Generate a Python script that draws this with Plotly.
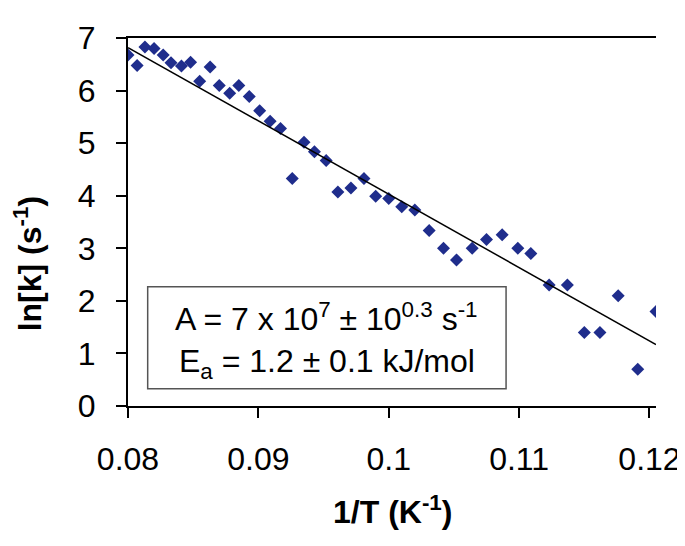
import plotly.graph_objects as go

inv_T = [0.0800, 0.0807, 0.0813, 0.0820, 0.0827, 0.0833, 0.0841, 0.0848, 0.0855, 0.0863,
         0.0870, 0.0878, 0.0885, 0.0893, 0.0901, 0.0909, 0.0917, 0.0926, 0.0935, 0.0943,
         0.0952, 0.0961, 0.0971, 0.0981, 0.0990, 0.1000, 0.1010, 0.1020, 0.1031, 0.1042,
         0.1052, 0.1064, 0.1075, 0.1087, 0.1099, 0.1109, 0.1123, 0.1137, 0.1150, 0.1162,
         0.1176, 0.1191, 0.1205]
ln_k = [6.68, 6.48, 6.83, 6.80, 6.68, 6.53, 6.47, 6.54, 6.18, 6.45,
        6.10, 5.95, 6.10, 5.89, 5.62, 5.42, 5.28, 4.33, 5.02, 4.84,
        4.67, 4.07, 4.15, 4.33, 3.99, 3.95, 3.79, 3.73, 3.34, 3.00,
        2.78, 3.00, 3.17, 3.26, 3.00, 2.90, 2.30, 2.30, 1.40, 1.40,
        2.10, 0.70, 1.80]

fit_x = [0.0800, 0.1205]
fit_y = [6.82, 1.17]

x_ticks = [0.08, 0.09, 0.10, 0.11, 0.12]
x_tick_text = ["0.08", "0.09", "0.1", "0.11", "0.12"]
y_ticks = [0, 1, 2, 3, 4, 5, 6, 7]

FONT = "Liberation Sans, Arial, sans-serif"

fig = go.Figure()
fig.add_trace(go.Scatter(x=inv_T, y=ln_k, mode="markers",
                         marker=dict(symbol="diamond", size=10, color="#1f2d8c",
                                     line=dict(width=0)),
                         showlegend=False))
fig.add_trace(go.Scatter(x=fit_x, y=fit_y, mode="lines",
                         line=dict(color="black", width=1.5), showlegend=False))

fig.update_layout(
    width=685, height=546,
    margin=dict(l=120, r=28, t=15, b=148),
    paper_bgcolor="white", plot_bgcolor="white",
    font=dict(family=FONT, size=32, color="black"),
    xaxis=dict(range=[0.08, 0.1205], tickvals=x_ticks, ticktext=x_tick_text,
               showgrid=False, zeroline=False, showline=True, linecolor="black",
               linewidth=2, mirror=True, ticks="outside", ticklen=10, tickwidth=1.5,
               tickcolor="black", ticklabelstandoff=14,
               tickfont=dict(size=32)),
    yaxis=dict(range=[0, 7.002], tickvals=y_ticks, showgrid=False, zeroline=False,
               showline=True, linecolor="black", linewidth=2, mirror=False,
               ticks="outside", ticklen=10, tickwidth=1.5, tickcolor="black",
               ticklabelstandoff=14, tickfont=dict(size=32),
               ticklabeloverflow="allow"),
)

fig.add_annotation(text="<b>1/T (K<sup>-1</sup>)</b>", xref="paper", yref="paper",
                   x=0.5, y=0, yshift=-104, xanchor="center", yanchor="middle",
                   showarrow=False, font=dict(size=32))
fig.add_annotation(text="<b>ln[k] (s<sup>-1</sup>)</b>", xref="paper", yref="paper",
                   x=0, y=0.385, xshift=-100, xanchor="center", yanchor="middle",
                   textangle=-90, showarrow=False, font=dict(size=32))

# legend-like text box
fig.add_shape(type="rect", xref="x", yref="y", x0=0.08151, x1=0.1090, y0=0.33, y1=2.27,
              line=dict(color="#555555", width=1.5), fillcolor="white", layer="below")
fig.add_annotation(text="A = 7 x 10<sup>7</sup> ± 10<sup>0.3</sup> s<sup>-1</sup>",
                   xref="x", yref="y", x=0.09525, y=1.70, xanchor="center",
                   yanchor="middle", showarrow=False, font=dict(size=32))
fig.add_annotation(text="E<sub>a</sub> = 1.2 ± 0.1 kJ/mol",
                   xref="x", yref="y", x=0.09525, y=0.80, xanchor="center",
                   yanchor="middle", showarrow=False, font=dict(size=32))

fig.write_html("out.html")
